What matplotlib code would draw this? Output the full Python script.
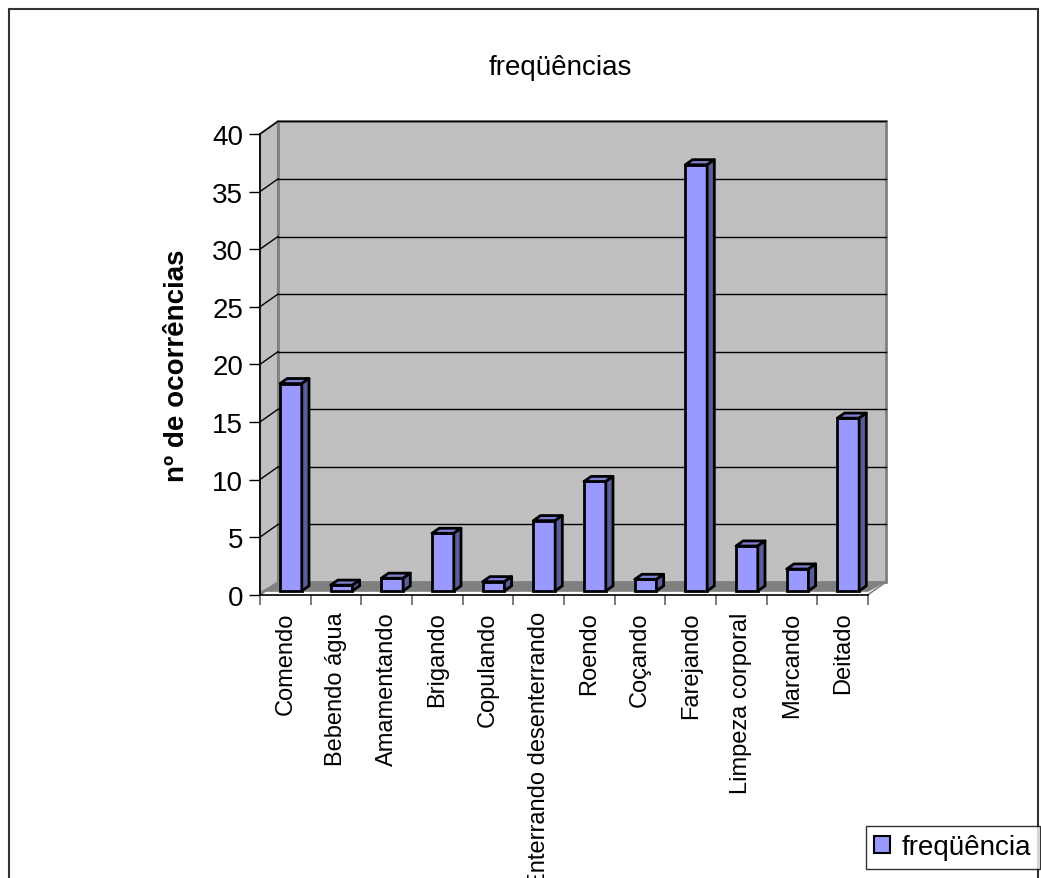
import numpy as np
import matplotlib
matplotlib.use("Agg")
import matplotlib.pyplot as plt
from matplotlib.patches import Polygon, Rectangle, Patch

plt.rcParams['font.family'] = ['Liberation Sans', 'DejaVu Sans']

# dados
categorias = ['Comendo', 'Bebendo água', 'Amamentando', 'Brigando', 'Copulando',
              'Enterrando desenterrando', 'Roendo', 'Coçando', 'Farejando',
              'Limpeza corporal', 'Marcando', 'Deitado']
frequencias = [18, 0.5, 1.1, 5, 0.8, 6.1, 9.5, 1, 37, 3.9, 1.9, 15]
yticks = [0, 5, 10, 15, 20, 25, 30, 35, 40]

titulo = 'freqüências'
ylabel = 'nº de ocorrências'
legenda = 'freqüência'

# cores (estilo excel 3d)
cor_frente = '#9999FF'
cor_lado = '#5C5C99'
cor_topo = '#8080D0'
cor_parede = '#C0C0C0'
cor_chao = '#808080'

# profundidade "3d" em unidades de dados
ox, oy = 0.355, 1.1
f0, f1 = 0.3, 0.7
larg = 0.43

W, H = 1041, 879
fig = plt.figure(figsize=(W / 100, H / 100), dpi=100)
ax = fig.add_axes([260 / W, 1 - 595.7 / H, (868 - 260) / W, (595.7 - 135) / H])
ax.set_xlim(-0.5, 11.5)
ax.set_ylim(0, 40)
ax.patch.set_visible(False)

n = len(categorias)
x0, x1 = -0.5, n - 0.5

# paredes e chao
ax.add_patch(Polygon([(x0, 0), (x0 + ox, oy), (x0 + ox, 40 + oy), (x0, 40)],
                     closed=True, facecolor=cor_parede, edgecolor='#808080',
                     lw=1.5, clip_on=False, zorder=0))
ax.add_patch(Polygon([(x0 + ox, oy), (x1 + ox, oy), (x1 + ox, 40 + oy), (x0 + ox, 40 + oy)],
                     closed=True, facecolor=cor_parede, edgecolor='#808080',
                     lw=2, clip_on=False, zorder=0))
ax.add_patch(Polygon([(x0, 0.25), (x1, 0.25), (x1 + ox, oy), (x0 + ox, oy)],
                     closed=True, facecolor=cor_chao, edgecolor='none',
                     clip_on=False, zorder=1))
ax.plot([x1, x1 + ox], [0, oy], color='#808080', lw=1.2, clip_on=False, zorder=1)

# linhas de grade
for v in yticks[1:]:
    ax.plot([x0 + ox, x1 + ox], [v + oy, v + oy], color='black', lw=1, clip_on=False, zorder=1)
    ax.plot([x0, x0 + ox], [v, v + oy], color='black', lw=1, clip_on=False, zorder=1)

# barras
xs = np.arange(n)
base = f0 * oy
ax.bar(xs + 0.11, frequencias, width=larg, bottom=base,
       color=cor_frente, edgecolor='black', linewidth=2, zorder=3)
dx, dy = (f1 - f0) * ox, (f1 - f0) * oy
for i, v in enumerate(frequencias):
    esq = i + 0.11 - larg / 2
    dir_ = i + 0.11 + larg / 2
    top = base + v
    ax.add_patch(Polygon([(esq, top), (dir_, top), (dir_ + dx, top + dy), (esq + dx, top + dy)],
                         closed=True, facecolor=cor_topo, edgecolor='black', lw=2,
                         joinstyle='round', zorder=4))
    ax.add_patch(Polygon([(dir_, base), (dir_ + dx, base + dy), (dir_ + dx, top + dy), (dir_, top)],
                         closed=True, facecolor=cor_lado, edgecolor='black', lw=2,
                         joinstyle='round', zorder=4))

# eixos
for s in ['top', 'right']:
    ax.spines[s].set_visible(False)
ax.spines['left'].set_linewidth(1.2)
ax.spines['bottom'].set_linewidth(1.2)
ax.spines['left'].set_zorder(5)
ax.spines['bottom'].set_zorder(5)

ax.set_yticks(yticks)
ax.tick_params(axis='y', length=8, width=1, labelsize=20, pad=4)
ax.set_xticks(np.arange(n + 1) - 0.5)
ax.set_xticklabels([])
ax.tick_params(axis='x', which='major', length=7.5, width=1.2, color='#666666')
ax.set_xticks(xs, minor=True)
ax.set_xticklabels(categorias, minor=True, rotation=90, fontsize=17)
ax.tick_params(axis='x', which='minor', length=0, pad=12)

ax.set_ylabel(ylabel, fontsize=20, fontweight='bold', labelpad=16)
fig.text(560 / W, 1 - 68 / H, titulo, ha='center', va='center', fontsize=20)

# legenda
leg = fig.legend([Patch(facecolor=cor_frente, edgecolor='black', lw=1.5)], [legenda],
                 loc='upper left', bbox_to_anchor=(866 / W, 1 - 827 / H),
                 fontsize=20, frameon=True, fancybox=False, borderpad=0.3,
                 handlelength=0.55, handleheight=0.55, handletextpad=0.45,
                 borderaxespad=0)
leg.get_frame().set_edgecolor('black')
leg.get_frame().set_linewidth(1)

# moldura
fig.patches.append(Rectangle((9 / W, -0.05), (1038 - 9) / W, 1 - 10 / H + 0.05,
                             transform=fig.transFigure, fill=False,
                             edgecolor='#333333', lw=1.5))

fig.savefig('out.png', dpi=100)
